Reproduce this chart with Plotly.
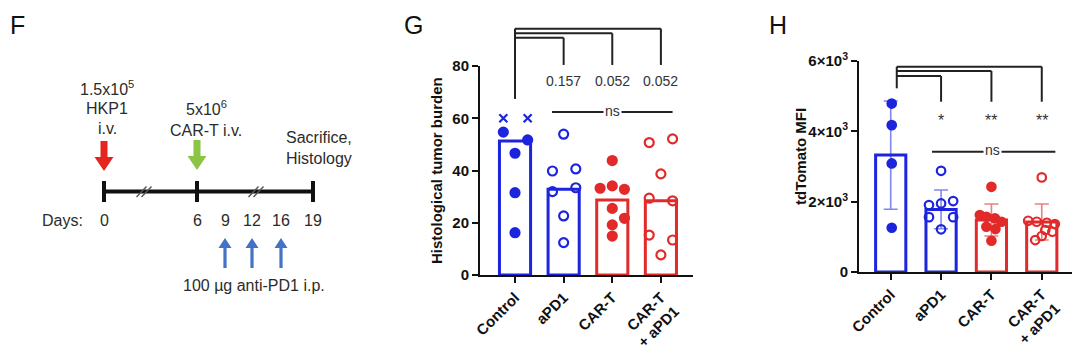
import plotly.graph_objects as go

W, H = 1080, 357
# the page places the plot 8 px in from the top-left corner of the window
OX, OY = 8, 8
FONT = "Liberation Sans, Arial, sans-serif"
BLUE = "rgb(28,36,222)"
RED = "rgb(226,42,42)"
BLUE_EB = "rgba(28,36,222,0.55)"
RED_EB = "rgba(226,42,42,0.6)"
INK = "#222222"

# ---------------- data ----------------
categories = ["Control", "aPD1", "CAR-T", "CAR-T<br>+ aPD1"]

# Panel G: histological tumor burden (bars = median)
g_bar_median = [51.3, 32.8, 28.7, 28.4]
g_control = [54.7, 51.7, 46.6, 31.5, 16.2]
g_control_x = [60, 60]
g_apd1 = [53.9, 39.8, 40.6, 31.9, 33.4, 22.6, 12.4]
g_cart = [43.8, 33.2, 34.1, 32.8, 25.5, 21.7, 19.2, 14.9]
g_combo = [50.7, 52.1, 38.7, 29.4, 28.4, 15.3, 13.4, 7.7]
g_pvalues = ["0.157", "0.052", "0.052"]
g_yticks = [0, 20, 40, 60, 80]

# Panel H: tdTomato MFI (bars = mean, error = SD)
h_bar_mean = [3324, 1780, 1477, 1420]
h_bar_sd = [1540, 550, 455, 512]
h_control = [4790, 4176, 3088, 1258]
h_apd1 = [2878, 1950, 1903, 2017, 1560, 1560, 1213]
h_cart = [2423, 1619, 1571, 1525, 1429, 1287, 1222, 889]
h_combo = [2690, 1457, 1429, 1400, 1364, 1193, 1145, 1023, 909]
h_stars = ["*", "**", "**"]
h_yticks = [0, 2000, 4000, 6000]
h_yticktext = ["0", "2×10<sup>3</sup>", "4×10<sup>3</sup>", "6×10<sup>3</sup>"]

# Panel F: timeline
days = [0, 6, 9, 12, 16, 19]
timeline_ticks = [0, 6, 19]
pd1_days = [9, 12, 16]

# ---------------- layout helpers (schematic positions) ----------------
day_x = {0: 104, 6: 197, 9: 225, 12: 252, 16: 281, 19: 313}

g_control_dx = [-0.24, 0.26, 0, 0, 0]
g_control_x_dx = [-0.24, 0.26]
g_apd1_dx = [0, -0.23, 0.25, -0.23, 0.25, 0, 0]
g_cart_dx = [0, -0.25, 0, 0.25, 0, 0.25, 0, 0]
g_combo_dx = [-0.24, 0.24, 0, -0.24, 0.24, -0.24, 0.24, 0]

h_control_dx = [0.02, 0.02, 0.02, 0.02]
h_apd1_dx = [0, 0, -0.24, 0.24, -0.24, 0.24, 0]
h_cart_dx = [0, -0.23, -0.1, 0.07, 0.2, -0.1, 0.08, 0]
h_combo_dx = [0, -0.27, -0.1, 0.1, 0.26, 0.07, 0.21, 0, -0.13]


def px(x):
    return (x - OX) / W


def py(y):
    return 1 - (y - OY) / H


fig = go.Figure()

bar_colors = [BLUE, BLUE, RED, RED]
eb_colors = [BLUE_EB, BLUE_EB, RED_EB, RED_EB]

# ---------------- Panel G ----------------
for i in range(4):
    fig.add_trace(go.Bar(
        x=[i], y=[g_bar_median[i]], width=0.64,
        marker=dict(color="rgba(255,255,255,0)", line=dict(color=bar_colors[i], width=3)),
        xaxis="x", yaxis="y", showlegend=False, hoverinfo="skip"))


def add_points(vals, dx, idx, color, filled, xa, ya, symbol=None, size=9):
    xs = [idx + d for d in dx]
    if symbol is None:
        symbol = "circle" if filled else "circle-open"
    fig.add_trace(go.Scatter(
        x=xs, y=vals, mode="markers", xaxis=xa, yaxis=ya, showlegend=False,
        cliponaxis=False, hoverinfo="skip",
        marker=dict(symbol=symbol, size=size, color=color,
                    line=dict(color=color, width=2.2))))


add_points(g_control, g_control_dx, 0, BLUE, True, "x", "y")
add_points(g_control_x, g_control_x_dx, 0, BLUE, True, "x", "y", symbol="x-thin-open", size=8)
add_points(g_apd1, g_apd1_dx, 1, BLUE, False, "x", "y")
add_points(g_cart, g_cart_dx, 2, RED, True, "x", "y")
add_points(g_combo, g_combo_dx, 3, RED, False, "x", "y")

# ---------------- Panel H ----------------
for i in range(4):
    fig.add_trace(go.Bar(
        x=[i], y=[h_bar_mean[i]], width=0.6,
        marker=dict(color="rgba(255,255,255,0)", line=dict(color=bar_colors[i], width=3)),
        error_y=dict(type="data", array=[h_bar_sd[i]], color=eb_colors[i],
                     thickness=1.6, width=7),
        xaxis="x2", yaxis="y2", showlegend=False, hoverinfo="skip"))

add_points(h_control, h_control_dx, 0, BLUE, True, "x2", "y2", size=8.5)
add_points(h_apd1, h_apd1_dx, 1, BLUE, False, "x2", "y2", size=8.5)
add_points(h_cart, h_cart_dx, 2, RED, True, "x2", "y2", size=8.5)
add_points(h_combo, h_combo_dx, 3, RED, False, "x2", "y2", size=8.5)

shapes = []
annotations = []


def line(x0, y0, x1, y1, xref, yref, color=INK, width=2):
    shapes.append(dict(type="line", x0=x0, y0=y0, x1=x1, y1=y1, xref=xref, yref=yref,
                       line=dict(color=color, width=width)))


def text(x, y, s, xref="paper", yref="paper", size=14, color=INK, bold=False,
         xanchor="center", yanchor="middle", angle=0, bg=None):
    d = dict(x=x, y=y, xref=xref, yref=yref, text=s, showarrow=False,
             xanchor=xanchor, yanchor=yanchor, textangle=angle,
             font=dict(family=FONT, size=size, color=color,
                       weight="bold" if bold else "normal"))
    if bg:
        d["bgcolor"] = bg
        d["borderpad"] = 1
    annotations.append(d)


# G comparison brackets (y in data units, mapped to domain of y axis)
def gy(v):
    return v / 80.0


g_levels = [90.8, 92.5, 94.3]
line(0, gy(67.4), 0, gy(94.3), "x", "y domain")
for k, lv in enumerate(g_levels):
    target = k + 1
    line(0, gy(lv), target, gy(lv), "x", "y domain")
    line(target, gy(lv), target, gy(80.4), "x", "y domain")
    text(target, gy(74.3), g_pvalues[k], "x", "y domain", size=14, color="#333")
line(0.76, gy(62.4), 3.24, gy(62.4), "x", "y domain")
text(2.0, gy(62.8), "ns", "x", "y domain", size=14, color="#333", bg="white")


# H comparison brackets
def hy(v):
    return v / 6000.0


h_levels = [5573, 5715, 5837]
line(0.12, hy(5223), 0.12, hy(5837), "x2", "y2 domain")
for k, lv in enumerate(h_levels):
    target = k + 1
    line(0.12, hy(lv), target, hy(lv), "x2", "y2 domain")
    line(target, hy(lv), target, hy(4842), "x2", "y2 domain")
    text(target, hy(4300), h_stars[k], "x2", "y2 domain", size=16, color="#333")
line(0.82, hy(3420), 3.27, hy(3420), "x2", "y2 domain")
text(2.03, hy(3470), "ns", "x2", "y2 domain", size=14, color="#333", bg="white")

# Axis titles
text(px(437), py(171), "Histological tumor burden", size=15, bold=True, angle=-90, color="#111")
text(px(800), py(157), "tdTomato MFI", size=15, bold=True, angle=-90, color="#111")

# Panel letters
text(px(8), py(8.5), "F", size=25, xanchor="left", yanchor="top", color="#111")
text(px(402), py(8.5), "G", size=25, xanchor="left", yanchor="top", color="#111")
text(px(767), py(8.5), "H", size=25, xanchor="left", yanchor="top", color="#111")

# ---------------- Panel F: timeline ----------------
TL_Y = 191.5
line(px(day_x[0]), py(TL_Y), px(day_x[19]), py(TL_Y), "paper", "paper", color="#111", width=4)
for d in timeline_ticks:
    line(px(day_x[d]), py(181), px(day_x[d]), py(202), "paper", "paper", color="#111", width=4)
for bx in (144, 256):
    for off in (-2.5, 2.5):
        line(px(bx + off - 5), py(197), px(bx + off + 5), py(186.5), "paper", "paper",
             color="#555", width=1.4)


def block_arrow(xc, ytop, ytip, shaft_hw, head_hw, head_h, color, up=False):
    if not up:
        yh = ytip - head_h
    else:
        yh = ytip + head_h
    pts = [(xc - shaft_hw, ytop), (xc + shaft_hw, ytop), (xc + shaft_hw, yh),
           (xc + head_hw, yh), (xc, ytip), (xc - head_hw, yh), (xc - shaft_hw, yh)]
    path = "M " + " L ".join(f"{px(a):.5f},{py(b):.5f}" for a, b in pts) + " Z"
    shapes.append(dict(type="path", path=path, xref="paper", yref="paper",
                       fillcolor=color, line=dict(width=0)))


block_arrow(day_x[0], 141, 171, 3.5, 9.5, 14, "rgb(230,38,30)")
block_arrow(day_x[6], 140, 170, 3.5, 9.5, 14, "rgb(140,196,70)")
for d in pd1_days:
    block_arrow(day_x[d], 268, 238, 1.6, 6.5, 10, "rgb(68,114,196)", up=True)

FCOL = "#2b2b2b"
text(px(107), py(88), "1.5x10<sup>5</sup>", size=16, color=FCOL)
text(px(107), py(108), "HKP1", size=16, color=FCOL)
text(px(107), py(128), "i.v.", size=16, color=FCOL)
text(px(206), py(108), "5x10<sup>6</sup>", size=16, color=FCOL)
text(px(206), py(130), "CAR-T i.v.", size=16, color=FCOL)
text(px(319), py(137), "Sacrifice,", size=16, color=FCOL)
text(px(319), py(158), "Histology", size=16, color=FCOL)
text(px(62), py(220), "Days:", size=16, color=FCOL)
for d in days:
    text(px(day_x[d]), py(220), str(d), size=16, color=FCOL)
text(px(254), py(285), "100 µg anti-PD1 i.p.", size=16, color=FCOL)

axis_common = dict(showline=True, linecolor="#111", linewidth=2, ticks="outside",
                   ticklen=6, tickwidth=2, tickcolor="#111", showgrid=False,
                   zeroline=False, fixedrange=True, automargin=False)
tick_font = dict(family=FONT, size=15, color="#111", weight="bold")

fig.update_layout(
    template="none",
    width=W, height=H, margin=dict(l=0, r=0, t=0, b=0, pad=0, autoexpand=False),
    paper_bgcolor="white", plot_bgcolor="rgba(0,0,0,0)",
    barmode="overlay", showlegend=False,
    font=dict(family=FONT, color="#111"),
    xaxis=dict(domain=[px(480), px(693)], anchor="y", range=[-0.72, 3.66],
               tickvals=[0, 1, 2, 3], ticktext=categories, tickangle=-45,
               tickfont=tick_font, **axis_common),
    yaxis=dict(domain=[py(275), py(66)], anchor="x", range=[0, 80],
               tickvals=g_yticks, tickfont=tick_font, **axis_common),
    xaxis2=dict(domain=[px(859), px(1075)], anchor="y2", range=[-0.63, 3.66],
                tickvals=[0, 1, 2, 3], ticktext=categories, tickangle=-45,
                tickfont=tick_font, **axis_common),
    yaxis2=dict(domain=[py(272), py(61)], anchor="x2", range=[0, 6000],
                tickvals=h_yticks, ticktext=h_yticktext,
                tickfont=dict(family=FONT, size=15, color="#111", weight="bold"),
                **axis_common),
    shapes=shapes, annotations=annotations,
)

fig.write_html("out.html")
